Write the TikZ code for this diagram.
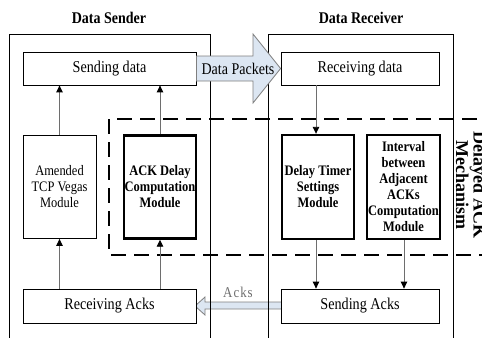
\documentclass[tikz,border=0pt]{standalone}
\usepackage{fontspec}
\setmainfont{Liberation Serif}[FakeStretch=0.86]
\newfontfamily\rotfont{Liberation Serif}
\usetikzlibrary{arrows.meta}
\definecolor{arrowfill}{HTML}{DCE6F2}
\definecolor{conn}{HTML}{6E6E6E}
\definecolor{arrowline}{HTML}{7F7F7F}
\begin{document}
\begin{tikzpicture}[x=1bp,y=-1bp,
  box/.style={draw,line width=0.8bp,inner sep=0bp,align=center,
    font=\fontsize{14.5bp}{16bp}\selectfont},
  thickbox/.style={box,line width=2.4bp,font=\fontsize{14.5bp}{16bp}\selectfont\bfseries},
  wide/.style={minimum width=173bp,minimum height=33bp,font=\fontsize{16.5bp}{18bp}\selectfont},
  tall/.style={minimum width=72bp,minimum height=103bp},
  title/.style={font=\fontsize{16.3bp}{18bp}\selectfont\bfseries},
  frame/.style={draw,line width=0.9bp},
  conn/.style={draw=conn,line width=0.9bp,-{Triangle[color=black,length=7bp,width=6.5bp]}},
  blockarrow/.style={draw=arrowline,line width=0.8bp,fill=arrowfill,line join=miter},
  mech/.style={line width=2.6bp,dash pattern=on 15bp off 8bp}]
\useasboundingbox (0,0) rectangle (482,337);
\clip (0,0) rectangle (482,337);

% titles
\node[title] (tS) at (109,18) {Data Sender};
\node[title] (tR) at (361,18) {Data Receiver};

% Acks block arrow (under the frames)
\draw[blockarrow] (282,302) -- (205,302) -- (205,297) -- (195,306) -- (205,315) -- (205,309) -- (282,309) -- cycle;
\node[text=conn,font=\fontsize{15bp}{16bp}\selectfont] (acklbl) at (238,292) {A\kern1bp c\kern1bp k\kern1bp s};

% frames
\draw[frame] (9,34) rectangle (210,350);
\draw[frame] (268,34) rectangle (453,350);

% boxes
\node[box,wide,fill=white] (sd) at (109.5,68.5) {Sending data};
\node[box,wide,fill=white,minimum width=158bp] (rd) at (360,68.5) {Receiving data};
\node[box,tall,minimum width=73bp,fill=white] (av) at (59.5,187) {Amended\\TCP Vegas\\Module};
\node[thickbox,tall,fill=white] (ad) at (160,187) {ACK Delay\\Computation\\Module};
\node[thickbox,tall,minimum height=104bp,fill=white] (dt) at (318,187) {Delay Timer\\Settings\\Module};
\node[thickbox,tall,minimum height=104bp,minimum width=73bp,fill=white] (iv) at (403.5,187) {Interval\\between\\Adjacent\\ACKs\\Computation\\Module};
\node[box,wide,minimum height=34bp,fill=white] (ra) at (109.5,306) {Receiving Acks};
\node[box,wide,minimum height=34bp,minimum width=158bp,fill=white] (sa) at (360,306) {Sending Acks};

% dashed mechanism box
\draw[mech] (500,119) -- (109,119) -- (109,255) -- (500,255);
\node[rotate=-90,align=center,font=\rotfont\fontsize{18bp}{15bp}\selectfont\bfseries] (mlbl) at (471,185) {Delayed ACK\\Mechanism};

% Data Packets block arrow (over the frames)
\draw[blockarrow] (sd.east |- 0,56) -- (253,56) -- (253,34) -- (rd.west) -- (253,103) -- (253,81) -- (sd.east |- 0,81) -- cycle;
\node[font=\fontsize{16.3bp}{18bp}\selectfont] (dplbl) at (238,68.5) {Data Packets};

% connectors
\draw[conn] (av.north) -- (av.north |- sd.south);
\draw[conn] (ad.north) -- (ad.north |- sd.south);
\draw[conn] (ra.north -| av.south) -- (av.south);
\draw[conn] (ra.north -| ad.south) -- (ad.south);
\draw[conn] (rd.south -| 316,0) -- (dt.north -| 316,0);
\draw[conn] (dt.south -| 316,0) -- (sa.north -| 316,0);
\draw[conn] (iv.south -| 404,0) -- (sa.north -| 404,0);
\end{tikzpicture}
\end{document}
